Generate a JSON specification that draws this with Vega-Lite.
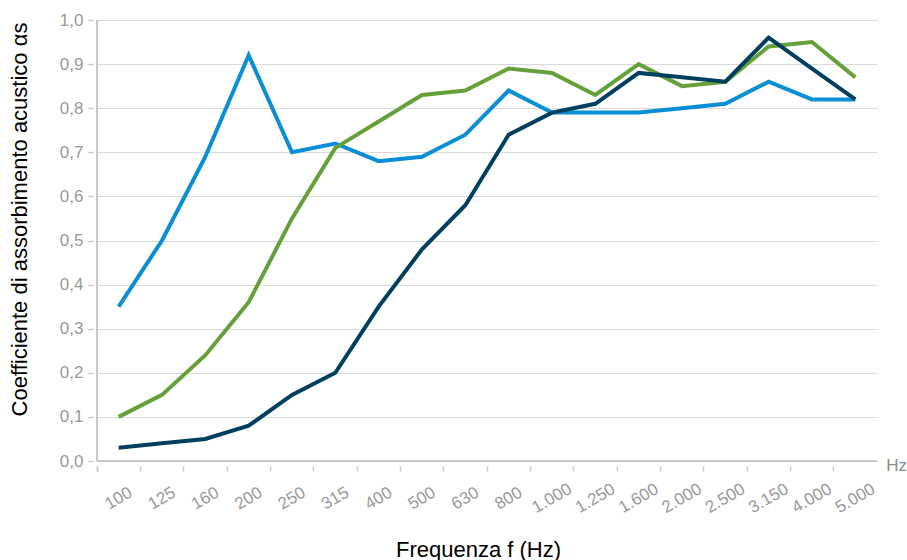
{
  "$schema": "https://vega.github.io/schema/vega-lite/v6.json",
  "width": 780,
  "height": 441,
  "autosize": {"type": "none"},
  "padding": {"left": 97, "top": 20, "right": 30, "bottom": 99},
  "background": "white",
  "config": {
    "view": {"stroke": null},
    "font": "Liberation Sans"
  },
  "layer": [
    {
      "data": {
        "values": [
          {"f": "100", "s": "a", "v": 0.35}, {"f": "125", "s": "a", "v": 0.50}, {"f": "160", "s": "a", "v": 0.69}, {"f": "200", "s": "a", "v": 0.92}, {"f": "250", "s": "a", "v": 0.70}, {"f": "315", "s": "a", "v": 0.72}, {"f": "400", "s": "a", "v": 0.68}, {"f": "500", "s": "a", "v": 0.69}, {"f": "630", "s": "a", "v": 0.74}, {"f": "800", "s": "a", "v": 0.84}, {"f": "1000", "s": "a", "v": 0.79}, {"f": "1250", "s": "a", "v": 0.79}, {"f": "1600", "s": "a", "v": 0.79}, {"f": "2000", "s": "a", "v": 0.80}, {"f": "2500", "s": "a", "v": 0.81}, {"f": "3150", "s": "a", "v": 0.86}, {"f": "4000", "s": "a", "v": 0.82}, {"f": "5000", "s": "a", "v": 0.82},
          {"f": "100", "s": "b", "v": 0.10}, {"f": "125", "s": "b", "v": 0.15}, {"f": "160", "s": "b", "v": 0.24}, {"f": "200", "s": "b", "v": 0.36}, {"f": "250", "s": "b", "v": 0.55}, {"f": "315", "s": "b", "v": 0.71}, {"f": "400", "s": "b", "v": 0.77}, {"f": "500", "s": "b", "v": 0.83}, {"f": "630", "s": "b", "v": 0.84}, {"f": "800", "s": "b", "v": 0.89}, {"f": "1000", "s": "b", "v": 0.88}, {"f": "1250", "s": "b", "v": 0.83}, {"f": "1600", "s": "b", "v": 0.90}, {"f": "2000", "s": "b", "v": 0.85}, {"f": "2500", "s": "b", "v": 0.86}, {"f": "3150", "s": "b", "v": 0.94}, {"f": "4000", "s": "b", "v": 0.95}, {"f": "5000", "s": "b", "v": 0.87},
          {"f": "100", "s": "c", "v": 0.03}, {"f": "125", "s": "c", "v": 0.04}, {"f": "160", "s": "c", "v": 0.05}, {"f": "200", "s": "c", "v": 0.08}, {"f": "250", "s": "c", "v": 0.15}, {"f": "315", "s": "c", "v": 0.20}, {"f": "400", "s": "c", "v": 0.35}, {"f": "500", "s": "c", "v": 0.48}, {"f": "630", "s": "c", "v": 0.58}, {"f": "800", "s": "c", "v": 0.74}, {"f": "1000", "s": "c", "v": 0.79}, {"f": "1250", "s": "c", "v": 0.81}, {"f": "1600", "s": "c", "v": 0.88}, {"f": "2000", "s": "c", "v": 0.87}, {"f": "2500", "s": "c", "v": 0.86}, {"f": "3150", "s": "c", "v": 0.96}, {"f": "4000", "s": "c", "v": 0.89}, {"f": "5000", "s": "c", "v": 0.82}
        ]
      },
      "mark": {"type": "line", "strokeWidth": 4, "strokeJoin": "miter"},
      "encoding": {
        "x": {
          "field": "f", "type": "ordinal",
          "scale": {"domain": ["100","125","160","200","250","315","400","500","630","800","1000","1250","1600","2000","2500","3150","4000","5000"], "paddingInner": 0, "paddingOuter": 0},
          "axis": {
            "title": "Frequenza f (Hz)",
            "titleFont": "Liberation Sans", "titleFontSize": 22, "titleFontWeight": "normal", "titleColor": "#000000",
            "titleX": 381, "titleY": 90, "titleAlign": "center", "titleBaseline": "alphabetic", "titleAnchor": null,
            "labelExpr": "length(datum.label) > 3 ? slice(datum.label,0,length(datum.label)-3) + '.' + slice(datum.label,-3) : datum.label",
            "labelAngle": -30, "labelAlign": "center", "labelBaseline": "middle", "labelPadding": 27,
            "labelFontSize": 17, "labelColor": "#999999", "labelFont": "Liberation Sans",
            "domain": false, "offset": 5, "ticks": true, "tickSize": 5, "tickColor": "#c8c8c8", "tickWidth": 1.5,
            "bandPosition": 0, "tickExtra": true, "grid": false
          }
        },
        "y": {
          "field": "v", "type": "quantitative",
          "scale": {"domain": [0, 1], "nice": false, "zero": true},
          "axis": {
            "title": "Coefficiente di assorbimento acustico αs",
            "titleFont": "Liberation Sans", "titleFontSize": 22, "titleFontWeight": "normal", "titleColor": "#000000",
            "titleAngle": -90, "titleX": -74, "titleY": 199, "titleAlign": "center", "titleBaseline": "middle", "titleAnchor": null,
            "values": [0, 0.1, 0.2, 0.3, 0.4, 0.5, 0.6, 0.7, 0.8, 0.9, 1],
            "labelExpr": "replace(format(datum.value, '.1f'), '.', ',')",
            "labelFontSize": 17, "labelColor": "#999999", "labelFont": "Liberation Sans", "labelPadding": 5,
            "domain": false, "offset": 4, "tickSize": 5, "tickColor": "#c8c8c8", "tickWidth": 1.5,
            "grid": true, "gridColor": "#d9d9d9", "gridWidth": 1
          }
        },
        "color": {
          "field": "s", "type": "nominal",
          "scale": {"domain": ["a", "b", "c"], "range": ["#0a8fd6", "#66a03a", "#003f5f"]},
          "legend": null
        }
      }
    },
    {
      "data": {"values": [{"k": 1}]},
      "mark": {"type": "rule", "color": "#c8c8c8", "strokeWidth": 2},
      "encoding": {"y": {"datum": 0}}
    },
    {
      "data": {"values": [{"k": 1}]},
      "mark": {"type": "rule", "color": "#c8c8c8", "strokeWidth": 2},
      "encoding": {"x": {"datum": "100", "bandPosition": 0}}
    },
    {
      "data": {"values": [{"k": 1}]},
      "mark": {"type": "text", "text": "Hz", "fontSize": 17, "fill": "#8c8c8c", "font": "Liberation Sans", "align": "left", "baseline": "middle", "dx": 31, "dy": 5},
      "encoding": {"x": {"datum": "5000"}, "y": {"datum": 0}}
    }
  ]
}
